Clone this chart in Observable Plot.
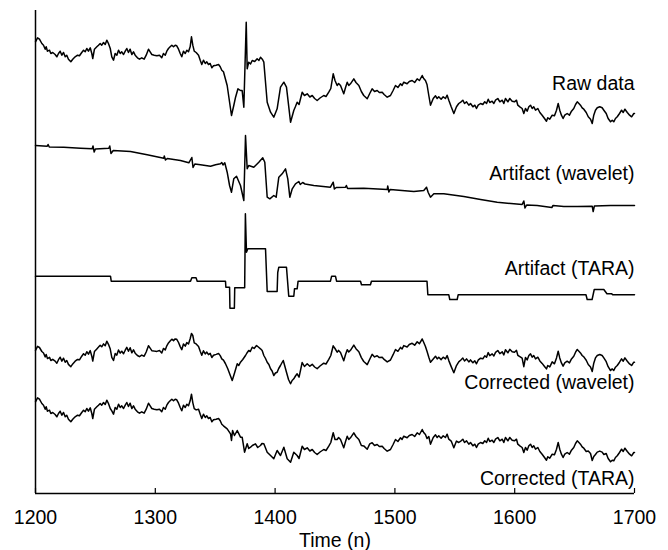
<!DOCTYPE html>
<html>
<head>
<meta charset="utf-8">
<script src="https://cdn.jsdelivr.net/npm/d3@7"></script>
<script src="https://cdn.jsdelivr.net/npm/@observablehq/plot@0.6"></script>
<style>
  html, body { margin: 0; padding: 0; background: #fff; }
  #chart svg { display: block; }
</style>
</head>
<body>
<div id="chart"></div>
<script>
// ---- data: [time n, amplitude] (arbitrary units) ----
const rawData = [
  [1200,78.7],[1201.7,82.7],[1203.3,81.3],[1205.3,77],[1206.7,75.3],[1208.1,71.3],[1208.9,73.7],[1210,69.3],[1211.7,70.3],
  [1212.8,67],[1214.4,68],[1216.4,66],[1217.8,63.7],[1219.2,67],[1220.6,69.3],[1222,65.3],[1223.4,68],[1224.8,63.7],
  [1226.1,65.3],[1227.5,61.3],[1229.5,58.7],[1231.1,61.3],[1233.1,63.7],[1235.1,65.3],[1236.7,64.7],[1238.6,68],[1240.1,70.3],
  [1241.5,68.7],[1242.8,72],[1244.2,69.3],[1245.7,72.7],[1247,67],[1247.8,62],[1249.2,71.3],[1251.2,73.7],[1252.6,75.3],
  [1254,77],[1255.3,75.3],[1256.8,78],[1258.2,76],[1259.5,80.3],[1260.9,77],[1262.4,72],[1263.7,63.7],[1265.1,60.3],
  [1266.5,67],[1267.9,65.3],[1269.3,70.3],[1270.7,67],[1272,68.7],[1273.5,66],[1274.9,69.3],[1276.2,72],[1277.6,68],
  [1279,71.3],[1280.4,66],[1281.8,68.7],[1283.2,65.3],[1285.1,62.7],[1286.8,61.3],[1288.7,62.7],[1290.7,61.3],[1292.4,65.3],
  [1294.3,71.3],[1295.7,68.7],[1297.1,66],[1299.1,65.3],[1301.3,64.7],[1303.5,65.3],[1305.4,62.7],[1306.8,67],[1308.3,65.3],
  [1309.6,69.3],[1311,72],[1312.4,73.7],[1313.8,75.3],[1315.2,73.7],[1316.6,75.3],[1317.9,74.7],[1319.4,71.3],[1320.8,67],
  [1322.1,63.7],[1323.5,69.3],[1325,67],[1326.3,70.3],[1327.7,68.7],[1329.1,73.7],[1330.2,83.7],[1331.3,75.3],[1332.5,69.3],
  [1334.1,68],[1336.1,65.3],[1337.5,60.3],[1338.8,56],[1340.2,60.3],[1341.7,57],[1343,58.7],[1344.4,56],[1345.8,57],
  [1347.2,52.7],[1348.6,54.7],[1350.8,55.3],[1352.8,56],[1354.2,53.7],[1355.5,50.3],[1356.9,48.7],
  [1360,35],[1363.6,5],[1365.5,15],[1367,23.3],[1369,31.7],[1371.1,30],[1372.5,30],[1373.9,13.3],[1375.9,98.3],[1376.7,51.7],
  [1378,58.3],[1379.5,56.5],[1380.9,60],[1383,59],[1385,61.7],[1386.5,60],[1387.8,63.3],[1389.5,61],[1390.6,58.3],
  [1393.4,18.3],[1396.2,8.3],[1398.9,3.3],[1401.7,11.7],[1404.5,33.3],[1407.3,38.3],[1409.5,33.3],[1412.9,-1.7],[1415.6,10],
  [1417,14],[1418.4,18.3],[1420,16],[1422.6,28.3],[1424.5,25],[1426.8,26.7],[1429,23.5],[1431,25],[1433,22],[1435.1,20],
  [1437.5,22.5],[1440.6,25],[1442.5,24],[1444.8,28.3],[1446.5,32],[1448.5,46.7],[1450,40],[1451.8,35],[1453,37],[1454.6,35],
  [1457.3,26.7],[1458.8,33],[1460.2,38.3],[1461.5,35],[1462.9,36.7],[1465.7,41.7],[1467.5,38],[1469.9,35],[1472,29],[1474,25],
  [1476.9,21.7],[1479,27],[1481,31.7],[1483,29],[1485.2,30],[1487,28],[1489.4,28.3],[1491,26],[1493.6,23.3],[1496.3,25],
  [1498.5,30],[1500.5,35],[1502.5,33],[1504.7,36.7],[1506,35],[1507.4,38.3],[1510.2,36.7],[1512,39],[1514.4,40],[1516.5,38],
  [1518.6,41.7],[1520.5,40],[1522.8,45],[1524,42],[1525.5,40],[1526.8,36],[1528.3,25],[1529.7,15.3],
  [1532,22],[1533.9,24.7],[1535.3,22],[1536.6,23.7],[1538.6,21.3],[1540.3,23.7],[1542.2,22],[1543.6,25.3],[1545,20.3],
  [1547,13.7],[1549.2,7],[1551.4,13.7],[1553.3,17],[1555.3,18.7],[1556.7,20.3],[1558.1,17],[1559.8,18.7],[1561.7,15.3],
  [1563.1,17],[1565.1,13.7],[1566.7,15.3],[1568.1,12],[1569.5,15.3],[1571.5,17],[1573.4,16],[1575,18.7],[1576.5,17],
  [1577.9,21.3],[1579.2,18],[1581.2,19.3],[1582.6,17],[1584,20.3],[1585.9,22],[1587.6,18.7],[1589.6,20.3],[1590.9,17],
  [1592.3,22],[1594.3,18.7],[1595.9,22],[1597.9,19.3],[1599.8,18.7],[1601.5,20.3],[1602.6,15.3],[1604.3,13.7],[1606.2,12],
  [1607.6,7],[1609,12],[1610.4,9.3],[1611.8,13.7],[1613.2,15.3],[1614.6,12],[1615.9,13.7],[1617.4,10.3],[1619.3,12],
  [1621,8],[1622.9,5.3],[1624.9,2],[1626.5,-0.7],[1627.6,2.7],[1629.3,1.3],[1631.3,5.3],[1633.2,4.7],[1634.9,10.3],
  [1636.3,17],[1637.6,10.3],[1639,5.3],[1640.4,2],[1641.8,5.3],[1643.8,7],[1645.7,5.3],[1647.4,9.3],[1649.3,12],[1650.8,16],
  [1652.2,18.7],[1653.6,17],[1654.9,15.3],[1656.3,12.7],[1657.7,11.3],[1659.7,8],[1661.4,3.7],[1663.3,1.3],[1664.7,-3],
  [1666,5.3],[1667.4,10.3],[1668.9,12.7],[1671,13.7],[1673,12.7],[1674.4,10.3],[1676.4,7],[1678,2],[1680,-1.3],[1681.4,0.3],
  [1682.7,-1.3],[1684.1,2],[1685.6,3.7],[1687.5,7],[1689.2,10.3],[1690.6,8],[1692,11.3],[1694,8],[1695.9,5.3],[1697.6,3.7],
  [1699.4,7],[1700,7]
];

const waveletArtifact = [
  [1200,75],[1209.8,74.3],[1210.5,76],[1211.5,73.5],[1223.6,73.3],[1237.6,72.3],[1247.3,71.7],[1248,74.5],[1249,68.5],
  [1250,71.5],[1261.2,72.3],[1262,74.5],[1263,67],[1264.9,70],[1279.3,69],[1293.2,65.7],[1307.1,62.3],[1307.5,64.5],
  [1308.5,60.5],[1310,62],[1321,60],[1328,57.7],[1330.5,63],[1331.5,53],[1333,56.5],[1337.7,55.7],[1346.1,54.3],
  [1350.3,55.7],[1354.4,56.7],[1355.5,58],[1356.5,55.5],[1358,57.7],[1360,48.3],[1362,35],[1363.6,28.3],[1365.5,41.7],
  [1367.8,44.3],[1371.1,35],[1373.9,20],[1375.3,85],[1376.7,51.7],[1378,55],[1382.2,53.3],[1386.4,58.3],[1389.7,62.7],
  [1391.4,58.3],[1393.4,23.3],[1395.6,21.7],[1398.9,25],[1400.9,23.3],[1403.1,43.3],[1405.9,46.7],[1408.7,51.7],
  [1410.6,41.7],[1412.3,23.3],[1414.3,31.7],[1417,36.7],[1419.8,39],[1421,36],[1423,38],[1425,36.5],[1432.3,35],
  [1446.2,33.3],[1448.5,38.3],[1449.5,31.5],[1451,33],[1458.8,33.3],[1459.5,35],[1460.5,32],[1474,32.3],[1493.6,31],
  [1494,34.5],[1495,28.5],[1496,31],[1515.8,29],[1524.1,30],[1526.4,33.3],[1527.8,28],[1529.7,23.3],[1532.5,26.7],
  [1540.8,26.7],[1557.5,24],[1571.5,21],[1585.4,18.3],[1599.3,16.7],[1606.2,16],[1607.6,19.5],[1608.6,12.5],[1610,15.5],
  [1618.8,15],[1631,13],[1632,15],[1641,14],[1652.2,14],[1664.7,14.3],[1665.5,9],[1666.5,14.5],[1680,15],[1700,15]
];

const taraArtifact = [
  [1200,34.3],[1262.6,34.3],[1263.2,29.3],[1329.4,29.3],[1330.5,32.7],[1334,32.7],[1335,29.3],[1358.6,29.3],[1358.9,23.3],
  [1362,23.3],[1362.3,2.3],[1366,2.3],[1366.3,22.8],[1374.6,22.8],[1375.2,96.7],[1376.1,58.3],[1377.2,61.7],[1392,61.7],
  [1393.4,19],[1401.7,19],[1402.2,38],[1403.1,43.3],[1409.5,43.3],[1411.4,14.3],[1415.6,14.3],[1416.2,21.7],[1418.4,21.7],
  [1419.2,29.3],[1446.2,29.3],[1447.2,34.3],[1450.4,34.3],[1451.3,29.3],[1471.3,29.3],[1472.1,25.7],[1479.6,25.7],
  [1480.4,29.3],[1526.8,29.3],[1527.5,15.7],[1545,15.7],[1545.8,11],[1552,11],[1552.8,15.7],[1659.5,15.7],[1660.5,11],
  [1664.6,11],[1666.4,21],[1674.4,21],[1677,16.7],[1681,16.7],[1682,15.7],[1700,15.7]
];

const correctedWavelet = [
  [1200,40],[1201.7,44.2],[1203.3,43],[1205.3,39],[1206.7,37.5],[1208.1,33.6],[1208.9,36.1],[1210,31.9],[1211.7,33.1],
  [1212.8,30],[1214.4,31.2],[1216.4,29.4],[1217.8,27.3],[1219.2,30.8],[1220.6,33.3],[1222,29.4],[1223.4,32.3],[1224.8,28.2],
  [1226.1,30],[1227.5,26.1],[1229.5,23.8],[1231.1,26.6],[1233.1,29.3],[1235.1,31.1],[1236.7,30.7],[1238.6,34.3],[1240.1,36.8],
  [1241.5,35.3],[1242.8,38.8],[1244.2,36.3],[1245.7,39.9],[1247,34.3],[1247.8,29.4],[1249.2,38.9],[1251.2,41.6],[1252.6,43.4],
  [1254,45.3],[1255.3,43.7],[1256.8,46.6],[1258.2,44.8],[1259.5,49.3],[1260.9,46.2],[1262.4,41.4],[1263.7,33.2],[1265.1,30],
  [1266.5,36.9],[1267.9,35.4],[1269.3,40.5],[1270.7,37.4],[1272,39.3],[1273.5,36.8],[1274.9,40.3],[1276.2,43.1],[1277.6,39.3],
  [1279,42.8],[1280.4,37.7],[1281.8,40.6],[1283.2,37.3],[1285.1,35],[1286.8,33.8],[1288.7,35.4],[1290.7,34.3],[1292.4,38.5],
  [1294.3,44.8],[1295.7,42.3],[1297.1,39.8],[1299.1,39.4],[1301.3,39.1],[1303.5,40],[1305.4,37.6],[1306.8,42.1],[1308.3,40.6],
  [1309.6,44.7],[1311,47.6],[1312.4,49.5],[1313.8,51.3],[1315.2,49.9],[1316.6,51.6],[1317.9,51.2],[1319.4,48],[1320.8,43.9],
  [1322.1,40.8],[1323.5,46.5],[1325,44.4],[1326.3,47.9],[1327.7,46.5],[1329.1,51.7],[1330.2,57],[1331.3,55],[1332.5,47.7],
  [1334.1,46.6],[1336.1,44.1],[1337.5,39.3],[1338.8,35.2],[1340.2,39.7],[1341.7,36.6],[1343,38.4],[1344.4,35.9],[1345.8,37.1],
  [1347.2,33],[1348.6,35.2],[1350.8,36.1],[1352.8,37],[1354.2,34.9],[1355.5,31.7],[1356.9,30.3],[1358.5,27],
  [1360.5,21.7],[1362.3,16],[1364.2,10],[1365.5,15],[1367,21],[1368.4,26.7],[1369.7,25],[1371.1,28.3],[1373,31],
  [1375.3,35],[1376.5,37.5],[1378,40],[1379.3,39],[1380.9,43.3],[1382.5,42],[1384.5,45],[1386,43.5],[1387.8,41.7],
  [1389.2,40],[1390.6,35],[1392,32],[1393.4,28.3],[1394.8,26],[1396.2,21.7],[1397.5,19.5],[1398.9,15],[1400.3,17.5],
  [1401.7,18.3],[1403,22],[1404.5,25],[1405.6,27.5],[1406.8,30],[1408.2,24],[1409.5,18.3],[1411.2,11],[1412.9,6.7],
  [1414.2,10],[1415.6,11.7],[1417,14.5],[1418.4,16.7],[1420,13.3],[1422.6,28],[1424.5,24],[1426.8,26.7],[1429,24.3],[1431,26.2],
  [1433,23.5],[1435.1,21.8],[1437.5,24.5],[1440.6,27.3],[1442.5,26.5],[1444.8,31.1],[1446.5,35],[1448.5,44.7],[1450,42],
  [1451.8,38.3],[1453,40.1],[1454.6,38.1],[1457.3,29.8],[1458.8,36],[1460.2,40.8],[1461.5,38.5],[1462.9,40.2],[1465.7,45.4],
  [1467.5,41.8],[1469.9,38.8],[1472,32.9],[1474,29],[1476.9,25.9],[1479,31.3],[1481,36.2],[1483,33.6],[1485.2,34.8],
  [1487,32.9],[1489.4,33.3],[1491,31.1],[1493.6,28.6],[1496.3,30.5],[1498.5,35.8],[1500.5,41],[1502.5,39.2],[1504.7,43.1],
  [1506,41.5],[1507.4,44.9],[1510.2,43.5],[1512,46],[1514.4,47.2],[1516.5,45.3],[1518.6,48.7],[1520.5,46.8],[1522.8,51.5],
  [1524,48.3],[1525.5,44],[1526.8,39.3],[1528.3,33.3],[1529.7,28.3],
  [1532,31.6],[1533.9,34.3],[1535.3,31.6],[1536.6,33.3],[1538.6,30.9],[1540.3,33.3],[1542.2,31.6],[1543.6,34.9],[1545,29.9],
  [1547,23.9],[1549.2,17.7],[1551.4,24.9],[1553.3,28.6],[1555.3,30.7],[1556.7,32.5],[1558.1,29.5],[1559.8,31.6],[1561.7,28.6],
  [1563.1,30.6],[1565.1,27.7],[1566.7,29.7],[1568.1,26.7],[1569.5,30.3],[1571.5,32.3],[1573.4,31.7],[1575,34.7],[1576.5,33.3],
  [1577.9,37.9],[1579.2,34.9],[1581.2,36.6],[1582.6,34.5],[1584,38.1],[1585.9,40],[1587.6,36.9],[1589.6,38.7],[1590.9,35.6],
  [1592.3,40.8],[1594.3,37.7],[1595.9,41.2],[1597.9,38.7],[1599.8,38.3],[1601.5,40.1],[1602.6,35.2],[1604.3,33.8],
  [1606.2,32.3],[1607.6,23.8],[1609,33],[1610.4,30.6],[1611.8,35],[1613.2,36.6],[1614.6,33.3],[1615.9,35],[1617.4,31.6],
  [1619.3,33.3],[1621,29.6],[1622.9,27.1],[1624.9,24],[1626.5,21.6],[1627.6,25],[1629.3,23.6],[1631.3,28.6],[1633.2,26.7],
  [1634.9,32.6],[1636.3,39.3],[1637.6,32.6],[1639,27.6],[1640.4,24.3],[1641.8,27.6],[1643.8,29.3],[1645.7,27.6],[1647.4,31.6],
  [1649.3,34.3],[1650.8,38.3],[1652.2,41],[1653.6,39.3],[1654.9,37.6],[1656.3,35],[1657.7,33.6],[1659.7,30.3],[1661.4,26],
  [1663.3,23.6],[1664.7,19],[1666,27.3],[1667.4,32.6],[1668.9,35],[1671,36],[1673,35],[1674.4,32.6],[1676.4,28.8],[1678,23.8],
  [1680,20],[1681.4,21.6],[1682.7,20],[1684.1,23.3],[1685.6,25],[1687.5,28.3],[1689.2,31.6],[1690.6,29.3],[1692,32.6],
  [1694,29.3],[1695.9,26.6],[1697.6,25],[1699.4,28.3],[1700,28.3]
];

const correctedTara = [
  [1200,68.7],[1201.7,72.7],[1203.3,71.3],[1205.3,67],[1206.7,65.3],[1208.1,61.3],[1208.9,63.7],[1210,59.3],[1211.7,60.3],
  [1212.8,57],[1214.4,58],[1216.4,56],[1217.8,53.7],[1219.2,57],[1220.6,59.3],[1222,55.3],[1223.4,58],[1224.8,53.7],
  [1226.1,55.3],[1227.5,51.3],[1229.5,48.7],[1231.1,51.3],[1233.1,53.7],[1235.1,55.3],[1236.7,54.7],[1238.6,58],[1240.1,60.3],
  [1241.5,58.7],[1242.8,62],[1244.2,59.3],[1245.7,62.7],[1247,57],[1247.8,52],[1249.2,61.3],[1251.2,63.7],[1252.6,65.3],
  [1254,67],[1255.3,65.3],[1256.8,68],[1258.2,66],[1259.5,70.3],[1260.9,67],[1262.4,62],[1263.7,59.7],[1265.1,56.3],
  [1266.5,63],[1267.9,61.3],[1269.3,66.3],[1270.7,63],[1272,64.7],[1273.5,62],[1274.9,65.3],[1276.2,68],[1277.6,64],
  [1279,67.3],[1280.4,62],[1281.8,64.7],[1283.2,61.3],[1285.1,58.7],[1286.8,57.3],[1288.7,58.7],[1290.7,57.3],[1292.4,61.3],
  [1294.3,67.3],[1295.7,64.7],[1297.1,62],[1299.1,61.3],[1301.3,60.7],[1303.5,61.3],[1305.4,58.7],[1306.8,63],[1308.3,61.3],
  [1309.6,65.3],[1311,68],[1312.4,69.7],[1313.8,71.3],[1315.2,69.7],[1316.6,71.3],[1317.9,70.7],[1319.4,67.3],[1320.8,63],
  [1322.1,59.7],[1323.5,65.3],[1325,63],[1326.3,66.3],[1327.7,64.7],[1329.1,69.7],[1330.2,76.3],[1331.3,67.9],[1332.5,61.9],
  [1334.1,60.6],[1336.1,61.3],[1337.5,56.3],[1338.8,52],[1340.2,56.3],[1341.7,53],[1343,54.7],[1344.4,52],[1345.8,53],
  [1347.2,48.7],[1348.6,50.7],[1350.8,51.3],[1352.8,52],[1354.2,49.7],[1355.5,46.3],[1356.9,44.7],
  [1360,41.7],[1362.8,36.7],[1363.6,30],[1364.5,40],[1366.1,35],[1368.4,40],[1371.1,33.3],[1372.5,33.3],[1374.5,18.3],
  [1376.7,26.7],[1378,22],[1379.5,23.3],[1381,25],[1383.6,26.7],[1385.5,23],[1387.8,25],[1389,27],[1390.6,26.7],[1393.4,18.3],
  [1396.2,15],[1398.9,11.7],[1401.7,20],[1404.5,15],[1407.3,23.3],[1410.1,11.7],[1412.9,8.3],[1415.6,18.3],[1418.4,15],
  [1420,12],[1422.6,24.3],[1424.5,21],[1426.8,22.7],[1429,19.5],[1431,21],[1433,18],[1435.1,16],[1437.5,18.5],[1440.6,21],
  [1442.5,20],[1444.8,24.3],[1446.5,28],[1448.5,37.7],[1450,31],[1451.8,31],[1453,33],[1454.6,31],[1457.3,22.7],[1458.8,29],
  [1460.2,34.3],[1461.5,31],[1462.9,32.7],[1465.7,37.7],[1467.5,34],[1469.9,31],[1472,25],[1474,24.6],[1476.9,21.3],
  [1479,26.6],[1481,27.7],[1483,25],[1485.2,26],[1487,24],[1489.4,24.3],[1491,22],[1493.6,19.3],[1496.3,21],[1498.5,26],
  [1500.5,31],[1502.5,29],[1504.7,32.7],[1506,31],[1507.4,34.3],[1510.2,32.7],[1512,35],[1514.4,36],[1516.5,34],
  [1518.6,37.7],[1520.5,36],[1522.8,41],[1524,38],[1525.5,36],[1526.8,32],[1528.3,34],[1529.7,26.3],
  [1532,33],[1533.9,35.7],[1535.3,33],[1536.6,34.7],[1538.6,32.3],[1540.3,34.7],[1542.2,33],[1543.6,36.3],[1545,31.3],
  [1547,29.4],[1549.2,22.7],[1551.4,29.4],[1553.3,28],[1555.3,29.7],[1556.7,31.3],[1558.1,28],[1559.8,29.7],[1561.7,26.3],
  [1563.1,28],[1565.1,24.7],[1566.7,26.3],[1568.1,23],[1569.5,26.3],[1571.5,28],[1573.4,27],[1575,29.7],[1576.5,28],
  [1577.9,32.3],[1579.2,29],[1581.2,30.3],[1582.6,28],[1584,31.3],[1585.9,33],[1587.6,29.7],[1589.6,31.3],[1590.9,28],
  [1592.3,33],[1594.3,29.7],[1595.9,33],[1597.9,30.3],[1599.8,29.7],[1601.5,31.3],[1602.6,26.3],[1604.3,24.7],[1606.2,23],
  [1607.6,18],[1609,23],[1610.4,20.3],[1611.8,24.7],[1613.2,26.3],[1614.6,23],[1615.9,24.7],[1617.4,21.3],[1619.3,23],
  [1621,19],[1622.9,16.3],[1624.9,13],[1626.5,10.3],[1627.6,13.7],[1629.3,12.3],[1631.3,16.3],[1633.2,15.7],[1634.9,21.3],
  [1636.3,28],[1637.6,21.3],[1639,16.3],[1640.4,13],[1641.8,16.3],[1643.8,18],[1645.7,16.3],[1647.4,20.3],[1649.3,23],
  [1650.8,27],[1652.2,29.7],[1653.6,28],[1654.9,26.3],[1656.3,23.7],[1657.7,22.3],[1659.7,19],[1661.4,19.4],[1663.3,17],
  [1664.7,10],[1666,14],[1667.4,16],[1668.9,18.4],[1671,19.4],[1673,18.4],[1674.4,16],[1676.4,17],[1678,12],[1680,8.7],
  [1681.4,10.3],[1682.7,9.7],[1684.1,13],[1685.6,14.7],[1687.5,18],[1689.2,21.3],[1690.6,19],[1692,22.3],[1694,19],
  [1695.9,16.3],[1697.6,14.7],[1699.4,18],[1700,18]
];

const seriesNames = ["Raw data", "Artifact (wavelet)", "Artifact (TARA)", "Corrected (wavelet)", "Corrected (TARA)"];
const xTicks = [1200, 1300, 1400, 1500, 1600, 1700];
const xLabel = "Time (n)";

// ---- layout (vertical stacking of the traces, label anchors) ----
const seriesData = [rawData, waveletArtifact, taraArtifact, correctedWavelet, correctedTara];
const seriesOffset = [373, 273, 183, 103, 23];
const labelAnchor = [410, 320, 225, 111, 15];

const rows = seriesData.flatMap((d, i) =>
  d.map(([n, v]) => ({series: seriesNames[i], n, y: v + seriesOffset[i]})));
const labels = seriesNames.map((name, i) => ({name, y: labelAnchor[i]}));

const chart = Plot.plot({
  width: 668,
  height: 550,
  marginLeft: 35,
  marginRight: 34,
  marginTop: 10,
  marginBottom: 57,
  style: {fontFamily: "'Liberation Sans', Arial, Helvetica, sans-serif", fontSize: "19.5px", color: "#000", background: "#fff"},
  x: {domain: [1200, 1700]},
  y: {domain: [0, 483], axis: null},
  marks: [
    Plot.line(rows, {x: "n", y: "y", z: "series", stroke: "#000", strokeWidth: 1.5, strokeLinejoin: "round"}),
    Plot.ruleX([1200], {y1: 0, y2: 483, stroke: "#000", strokeWidth: 1.5}),
    Plot.ruleY([0], {stroke: "#000", strokeWidth: 1.5}),
    Plot.ruleX(xTicks, {y1: 0, y2: 5, stroke: "#000", strokeWidth: 1.2}),
    Plot.axisX({ticks: xTicks, tickSize: 0, tickPadding: 17, tickFormat: d => String(d),
                label: xLabel, labelAnchor: "center", labelArrow: "none", labelOffset: 53}),
    Plot.text(labels, {x: 1700, y: "y", text: "name", textAnchor: "end", fill: "#000"})
  ]
});
document.getElementById("chart").appendChild(chart);
</script>
</body>
</html>
